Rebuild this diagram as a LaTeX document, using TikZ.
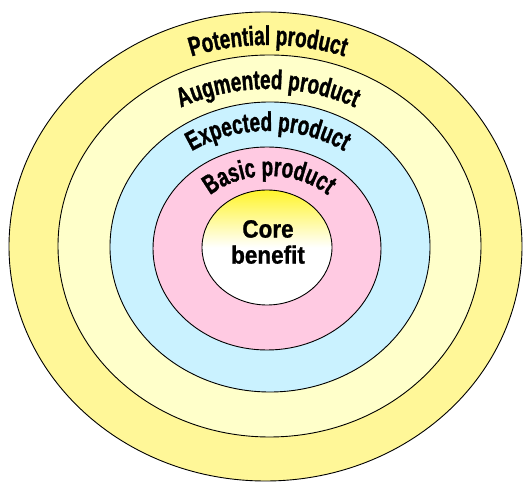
\documentclass[tikz,border=0pt]{standalone}
\usepackage{fontspec}
\setmainfont{Liberation Sans}
\newfontfamily\lblfont[FakeStretch=0.7,FakeBold=1.2]{Liberation Sans}
\newfontfamily\corefont[FakeStretch=0.9,FakeBold=1]{Liberation Sans}
\usetikzlibrary{decorations.text}
\definecolor{potcol}{RGB}{255,247,152}
\definecolor{augcol}{RGB}{255,255,202}
\definecolor{expcol}{RGB}{202,242,255}
\definecolor{bascol}{RGB}{255,202,226}
\definecolor{coreyel}{RGB}{255,242,0}
\pgfdeclareverticalshading{coreshade}{100bp}{color(0bp)=(white); color(50bp)=(white); color(80bp)=(coreyel); color(100bp)=(coreyel)}
\tikzset{
  ring/.style={draw=black, line width=0.9pt},
  arclabel/.style={decorate, decoration={text along path, text align=center,
     text={|\lblfont\bfseries\fontsize{27}{27}\selectfont|#1}}}
}
\begin{document}
\begin{tikzpicture}[x=1pt,y=1pt]
\useasboundingbox (0,0) rectangle (528,482);
% rings
\path[ring, fill=potcol] (265.5,235.5) ellipse [x radius=256.5, y radius=234.5];
\path[ring, fill=augcol] (269.5,236) ellipse [x radius=211.5, y radius=191];
\path[ring, fill=expcol] (270,235) ellipse [x radius=160, y radius=145];
\path[ring, fill=bascol] (267,233.5) ellipse [x radius=114, y radius=101.5];
\path[ring, shading=coreshade] (267,234.5) ellipse [x radius=65, y radius=57.5];
% curved labels
\path[arclabel={Potential product}] (268,235) ++(165:230 and 202) arc[start angle=165, end angle=15, x radius=230, y radius=202];
\path[arclabel={Augmented product}] (268,235) ++(165:185 and 158) arc[start angle=165, end angle=15, x radius=185, y radius=158];
\path[arclabel={Expected product}] (268,235) ++(170:135 and 116) arc[start angle=170, end angle=10, x radius=135, y radius=116];
\path[arclabel={Basic product}] (269,235) ++(175:86 and 71) arc[start angle=175, end angle=5, x radius=86, y radius=71];
% core text
\node[font=\corefont\bfseries\fontsize{25}{26}\selectfont, align=center, inner sep=0pt] (core) at (268,240) {Core\\benefit};
\end{tikzpicture}
\end{document}
